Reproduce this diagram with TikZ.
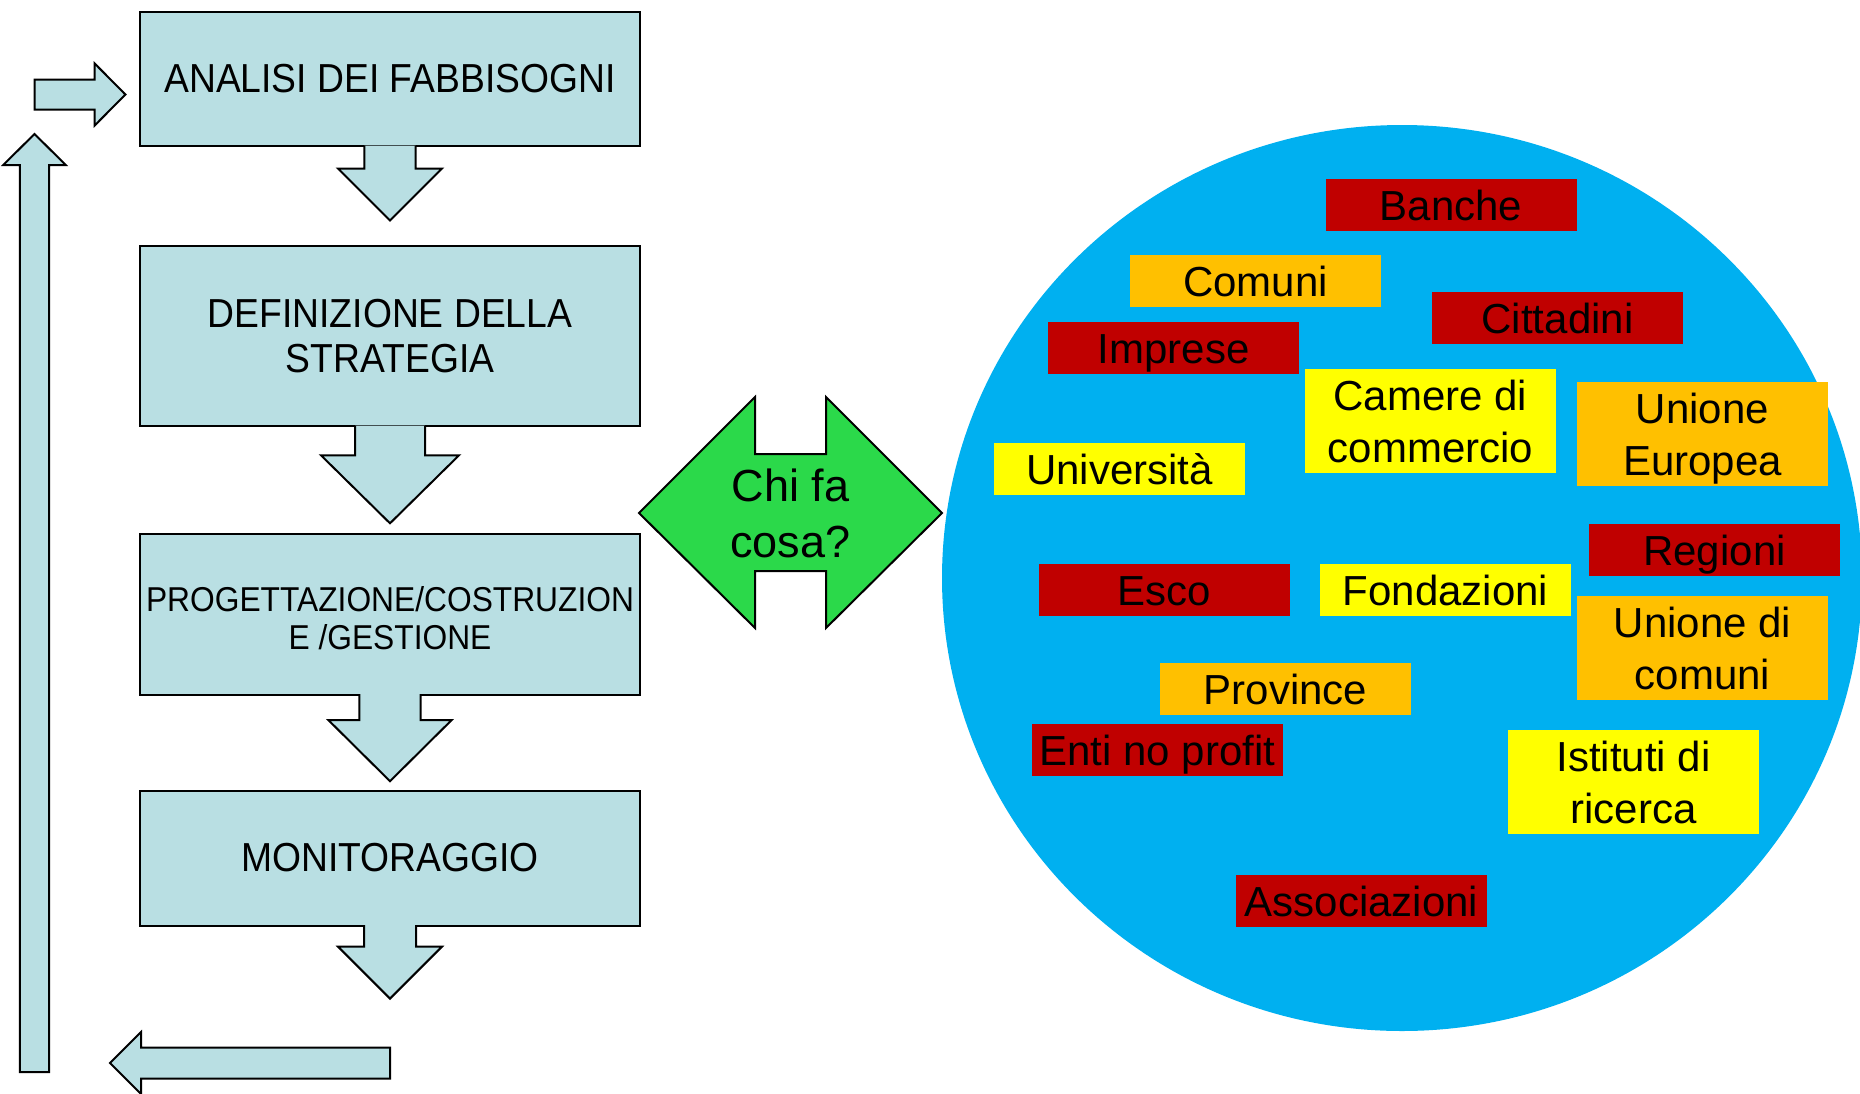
\documentclass[tikz,border=0pt]{standalone}
\usepackage{fontspec}
\setmainfont{Liberation Sans}
\newfontfamily\narrowsans[FakeStretch=0.92]{Liberation Sans}
\usepackage{tikz}

\definecolor{BoxBlue}{HTML}{B9DFE3}
\definecolor{ArrowGreen}{HTML}{2BD94A}
\definecolor{SkyBlue}{HTML}{00B0F0}
\definecolor{TagRed}{HTML}{C00000}
\definecolor{TagOrange}{HTML}{FFC000}
\definecolor{TagYellow}{HTML}{FFFF00}

\tikzset{
    stepbox/.style={draw=black, fill=BoxBlue, line width=2pt, minimum width=500pt,
        inner sep=0pt, align=center, font=\narrowsans\fontsize{40.5}{45}\selectfont},
    blockarrow/.style={draw=black, fill=BoxBlue, line width=2pt, line join=miter},
    tagbase/.style={inner sep=0pt, minimum width=251pt, align=center,
        font=\fontsize{42}{52}\selectfont},
    tag/.style={tagbase, minimum height=52pt, text height=30pt, text depth=0pt},
    tagpair/.style={tagbase, minimum height=104pt, text depth=0pt},
}

\begin{document}
\begin{tikzpicture}[x=1pt, y=-1pt]

            \useasboundingbox (0,0) rectangle (1860,1093);

            \node[stepbox, minimum height=134pt] (analisi) at (390,79) {ANALISI DEI FABBISOGNI};

            \node[stepbox, minimum height=180pt] (definizione) at (390,336) {DEFINIZIONE DELLA\\STRATEGIA};

            \node[stepbox, minimum height=161pt, font=\narrowsans\fontsize{34.5}{37.6}\selectfont]
                (progettazione) at (390,614) {\rule{0pt}{33pt}PROGETTAZIONE/COSTRUZION\\E /GESTIONE};

            \node[stepbox, minimum height=135pt] (monitoraggio) at (390,858) {MONITORAGGIO};

            \filldraw[blockarrow] ([xshift=-25.6pt,yshift=1.5pt]analisi.south) -- ++(0,23)
                -- ++(-26.4,0) -- ++(52,52) -- ++(52,-52) -- ++(-26.4,0) -- ++(0,-23);

            \filldraw[blockarrow] ([xshift=-35pt,yshift=1.5pt]definizione.south) -- ++(0,29.8)
                -- ++(-34,0) -- ++(69,68) -- ++(69,-68) -- ++(-34,0) -- ++(0,-29.8);

            \filldraw[blockarrow] ([xshift=-30.6pt,yshift=1.5pt]progettazione.south) -- ++(0,26.2)
                -- ++(-30.9,0) -- ++(61.5,61) -- ++(61.5,-61) -- ++(-30.9,0) -- ++(0,-26.2);

            \filldraw[blockarrow] ([xshift=-26pt,yshift=1.5pt]monitoraggio.south) -- ++(0,21.6)
                -- ++(-26,0) -- ++(52,52) -- ++(52,-52) -- ++(-26,0) -- ++(0,-21.6);

            \filldraw[blockarrow] (390,1047.5) -- (141,1047.5) -- (141,1032) -- (110,1063)
                -- (141,1094) -- (141,1078.5) -- (390,1078.5) -- cycle;

            \filldraw[blockarrow] (19.8,1072) -- (19.8,165) -- (3.2,165) -- (34.5,134)
                -- (65.8,165) -- (49.2,165) -- (49.2,1072) -- cycle;

            \filldraw[blockarrow] (34.5,79.5) -- (94.7,79.5) -- (94.7,63.5) -- (125.4,94.5)
                -- (94.7,125.5) -- (94.7,109.5) -- (34.5,109.5) -- cycle;

            \filldraw[draw=black, fill=ArrowGreen, line width=2pt] (639,513) -- (755,397) -- (755,454)
                -- (826,454) -- (826,397) -- (942,513) -- (826,628) -- (826,571) -- (755,571)
                -- (755,628) -- cycle;
            \node[align=center, font=\fontsize{45}{56}\selectfont] (chifa) at (790.5,513) {Chi fa\\cosa?};

            \fill[SkyBlue] (1402,578) ellipse [x radius=460pt, y radius=453pt];

            \node[tag, fill=TagRed] (banche) at (1451,205) {Banche};
            \node[tag, fill=TagOrange] (comuni) at (1255.5,281) {Comuni};
            \node[tag, fill=TagRed] (cittadini) at (1557.5,318) {Cittadini};
            \node[tag, fill=TagRed] (imprese) at (1173.5,348) {Imprese};
            \node[tagpair, fill=TagYellow] (camere) at (1430.5,421) {Camere di\\commercio};
            \node[tagpair, fill=TagOrange] (europa) at (1702.5,434) {Unione\\Europea};
            \node[tag, fill=TagYellow] (universita) at (1119.5,469) {Università};
            \node[tag, fill=TagRed] (regioni) at (1714.5,550) {Regioni};
            \node[tag, fill=TagRed] (esco) at (1164.5,590) {Esco};
            \node[tag, fill=TagYellow] (fondazioni) at (1445.5,590) {Fondazioni};
            \node[tagpair, fill=TagOrange] (unionecomuni) at (1702.5,648) {Unione di\\comuni};
            \node[tag, fill=TagOrange] (province) at (1285.5,689) {Province};
            \node[tag, fill=TagRed] (enti) at (1157.5,750) {Enti no profit};
            \node[tagpair, fill=TagYellow] (istituti) at (1633.5,782) {Istituti di\\ricerca};
            \node[tag, fill=TagRed] (associazioni) at (1361.5,901) {Associazioni};

\end{tikzpicture}
\end{document}
